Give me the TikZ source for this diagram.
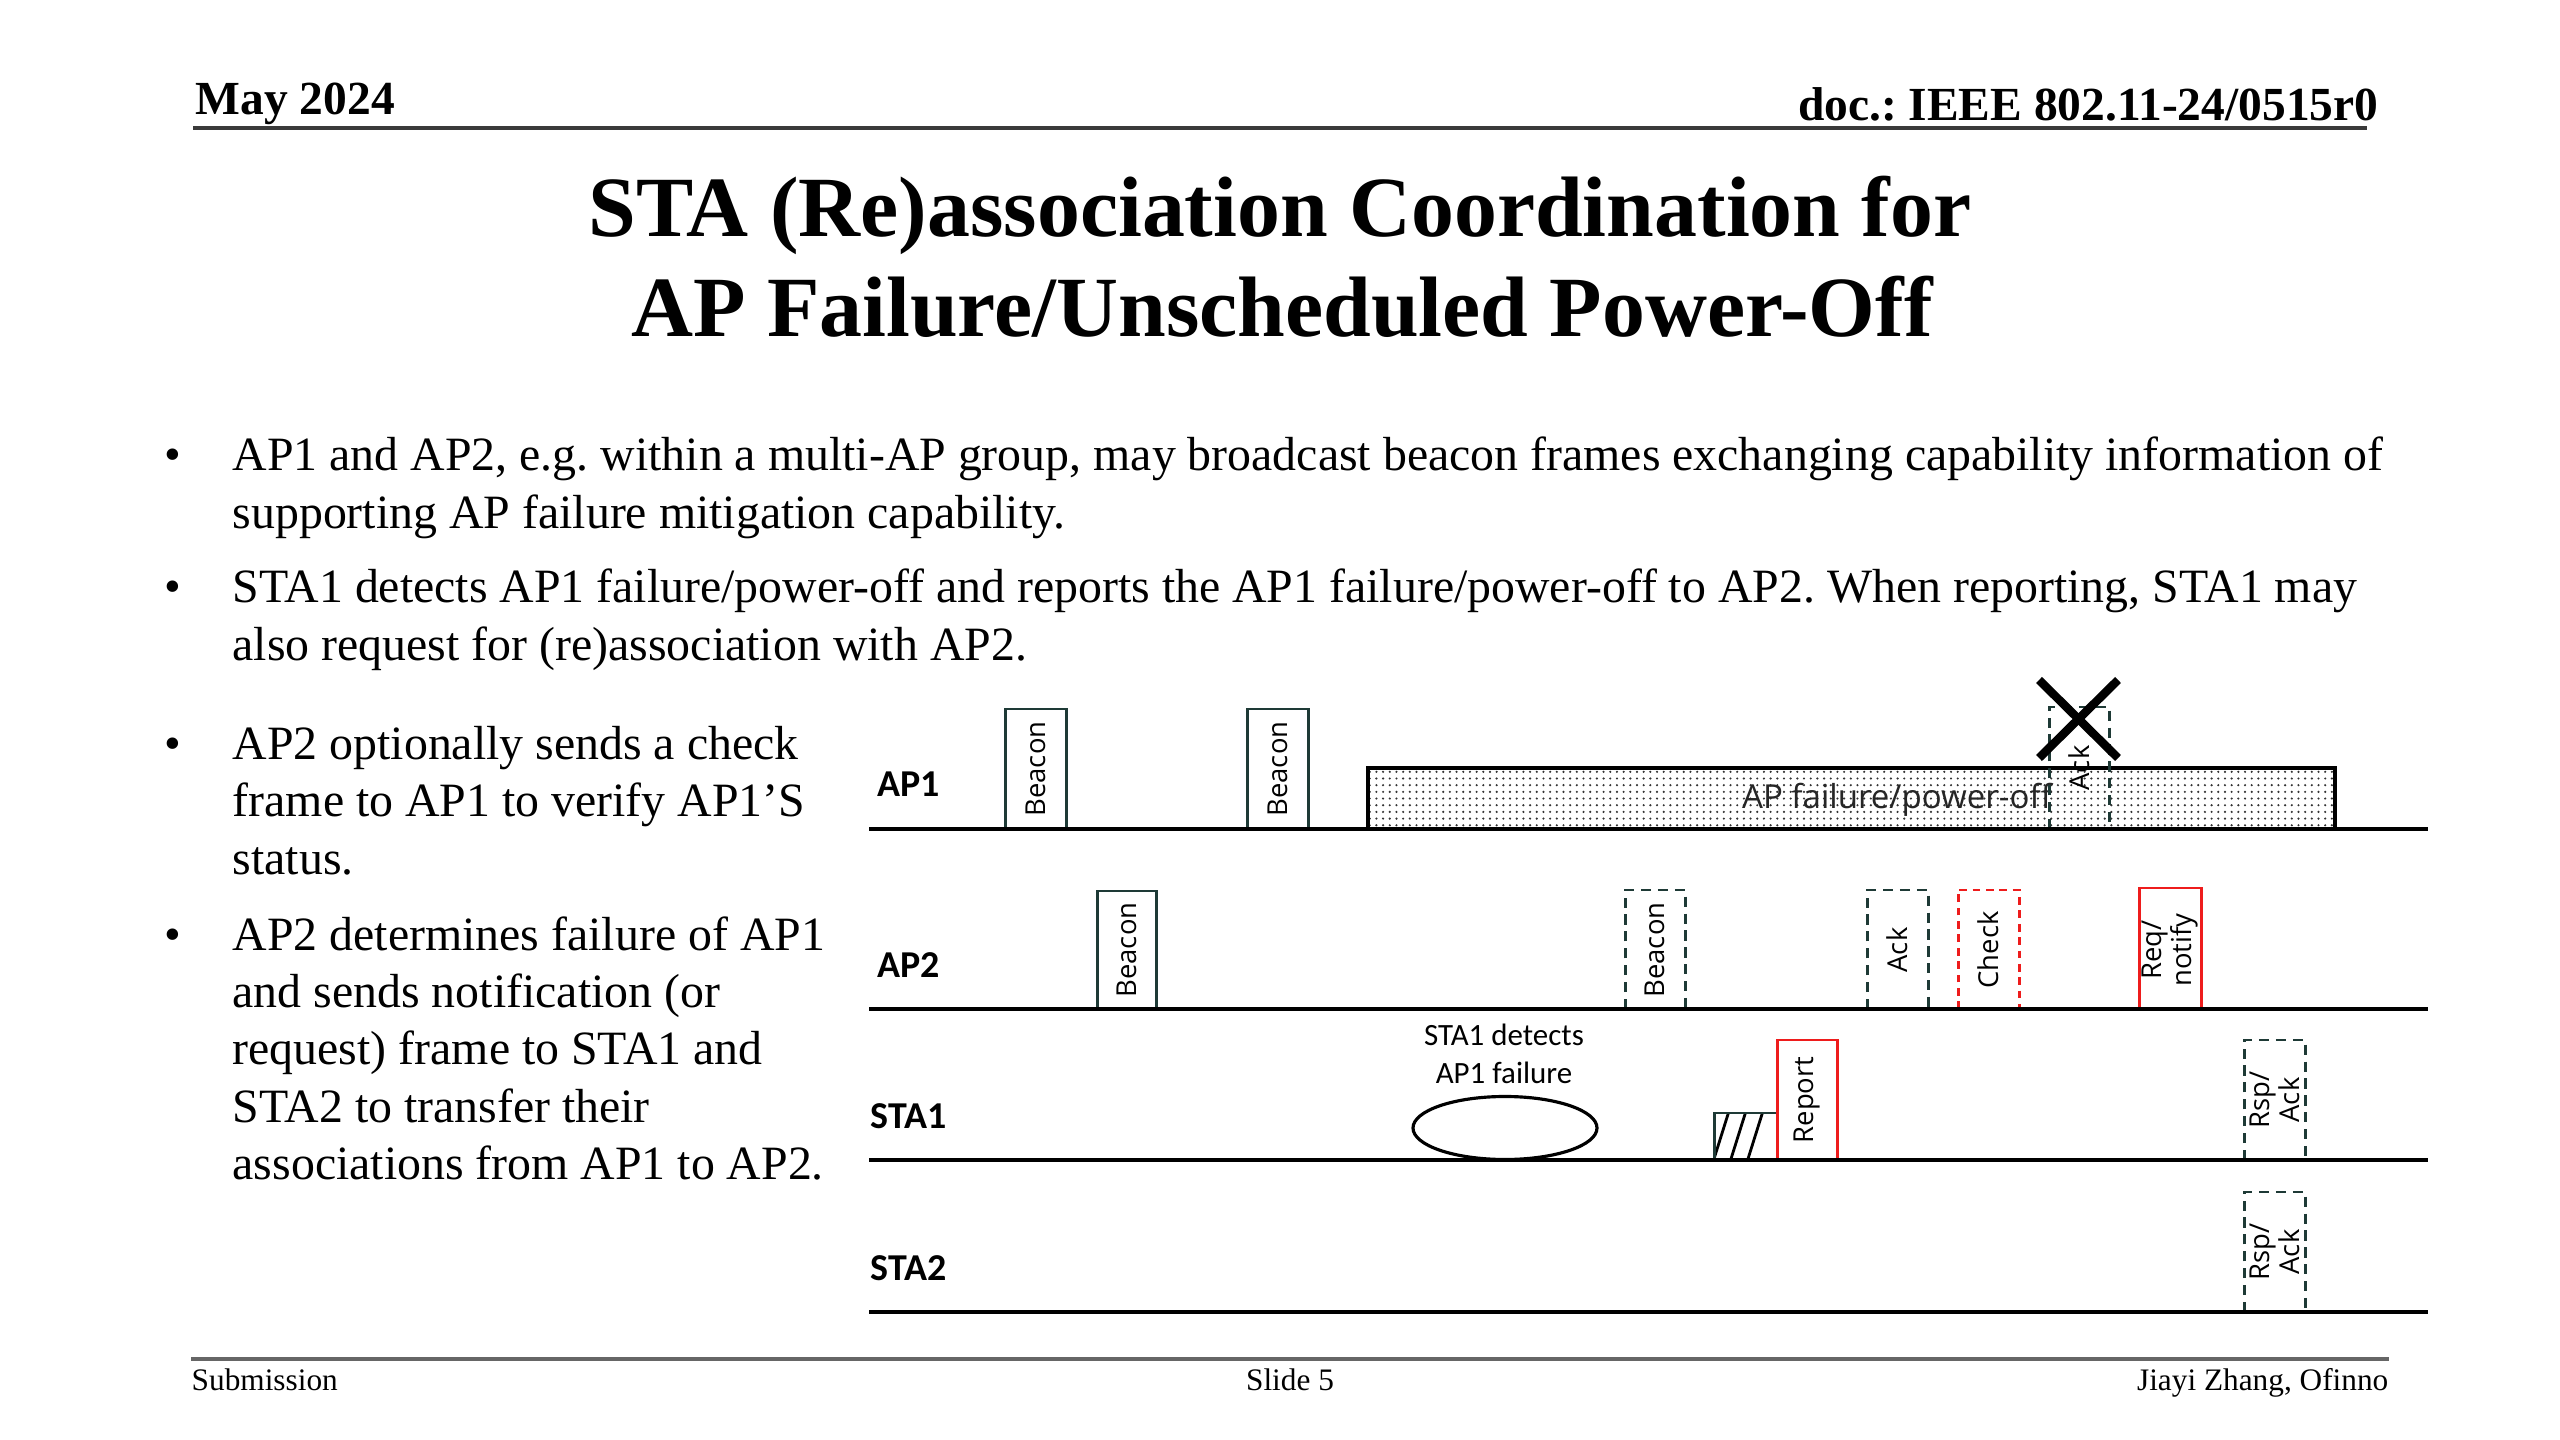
\documentclass[tikz,border=0pt]{standalone}
\usepackage{fontspec}
\setmainfont{Liberation Serif}
\newfontfamily\calfont{Carlito}
\newfontfamily\osfont{Open Sans}
\usetikzlibrary{patterns.meta}
\frenchspacing
\definecolor{boxc}{HTML}{1E3A36}
\definecolor{redc}{HTML}{EE1C1C}
\definecolor{rulec}{HTML}{3A3A3A}
\tikzset{
  hdr/.style={font=\fontsize{13.5}{16}\selectfont\bfseries},
  ttl/.style={font=\fontsize{24.4}{29}\selectfont\bfseries, anchor=base},
  body/.style={font=\fontsize{13.6}{16}\selectfont, anchor=base west, inner sep=0pt},
  foot/.style={font=\fontsize{8.9}{11}\selectfont, inner sep=0pt},
  tl/.style={line width=1.1pt, black},
  lane/.style={font=\calfont\fontsize{10.8}{13}\selectfont\bfseries, anchor=base west, inner sep=0pt},
  frm/.style={draw=boxc, line width=0.85pt},
  dfrm/.style={draw=boxc, line width=0.85pt, dash pattern=on 2.9pt off 1.9pt},
  rfrm/.style={draw=redc, line width=0.85pt},
  rdfrm/.style={draw=redc, line width=0.85pt, dash pattern=on 2.2pt off 1.6pt},
  flab/.style={font=\osfont\fontsize{7.8}{8.6}\selectfont, rotate=90, inner sep=0pt, align=center},
  note/.style={font=\calfont\fontsize{8.8}{11}\selectfont, anchor=base, inner sep=0pt}
}
\begin{document}
\begin{tikzpicture}[x=0.01cm,y=-0.01cm]
\useasboundingbox (0,0) rectangle (2560,1440);
\fill[white] (0,0) rectangle (2560,1440);

% header
\node[hdr, anchor=base west, inner sep=0pt] (date) at (195,115) {May 2024};
\node[hdr, anchor=base east, inner sep=0pt] (doc) at (2379,121) {doc.: IEEE 802.11-24/0515r0};
\draw[line width=0.9pt, rulec] (193,128) -- (2367,128);

% title
\node[ttl, inner sep=0pt] (t1) at (1280,237) {STA (Re)association Coordination for};
\node[ttl, inner sep=0pt] (t2) at (1282,337) {AP Failure/Unscheduled Power-Off};

% bullets
\foreach \y in {471,603,760,950}{
  \node[body] at (164,\y) {\textbullet};
}
\node[body] (b1a) at (232,471) {AP1 and AP2, e.g. within a multi-AP group, may broadcast beacon frames exchanging capability information of};
\node[body] (b1b) at (232,529) {supporting AP failure mitigation capability.};
\node[body] (b2a) at (232,603) {STA1 detects AP1 failure/power-off and reports the AP1 failure/power-off to AP2. When reporting, STA1 may};
\node[body] (b2b) at (232,661) {also request for (re)association with AP2.};
\node[body] (b3a) at (232,760) {AP2 optionally sends a check};
\node[body] (b3b) at (232,817) {frame to AP1 to verify AP1’S};
\node[body] (b3c) at (232,874) {status.};
\node[body] (b4a) at (232,950) {AP2 determines failure of AP1};
\node[body] (b4b) at (232,1007) {and sends notification (or};
\node[body] (b4c) at (232,1064) {request) frame to STA1 and};
\node[body] (b4d) at (232,1122) {STA2 to transfer their};
\node[body] (b4e) at (232,1179) {associations from AP1 to AP2.};

% lane labels
\node[lane] (lap1) at (877,797) {AP1};
\node[lane] (lap2) at (877,978) {AP2};
\node[lane] (lsta1) at (870,1128) {STA1};
\node[lane] (lsta2) at (870,1280) {STA2};

% AP1 lane
\draw[frm] (1005,829) rectangle (1066,709);
\node[flab] (bc1) at (1035.5,769) {Beacon};
\draw[frm] (1247,829) rectangle (1308,709);
\node[flab] (bc2) at (1277.5,769) {Beacon};
\fill[white] (1368,768) rectangle (2335,829);
\fill[pattern={Dots[radius=0.34pt, distance=1.9pt]}, pattern color=black!80] (1368,768) rectangle (2335,829);
\draw[line width=1.0pt, black] (1368,829) -- (1368,768) -- (2335,768) -- (2335,829);
\node[font=\osfont\fontsize{9.4}{11}\selectfont, inner sep=0pt, text=black!85] (fail) at (1897,800) {AP failure/power-off};
\draw[dfrm] (2049,829) rectangle (2109,707);
\node[flab] (ack1) at (2079,768) {Ack};

% AP2 lane
\draw[frm] (1097,1009) rectangle (1156,891);
\node[flab] (bc3) at (1126.5,950) {Beacon};
\draw[dfrm] (1625,1009) rectangle (1685,890);
\node[flab] (bc4) at (1655,950) {Beacon};
\draw[dfrm] (1867,1009) rectangle (1928,890);
\node[flab] (ack2) at (1897.5,950) {Ack};
\draw[rdfrm] (1958,1009) rectangle (2019,890);
\node[flab] (chk) at (1988.5,950) {Check};
\draw[rfrm] (2139,1009) rectangle (2201,888);
\node[flab] (req) at (2170,950) {Req/\\notify};

% STA1 lane
\node[note] (det1) at (1504,1045) {STA1 detects};
\node[note] (det2) at (1504,1083) {AP1 failure};
\draw[line width=0.9pt, black] (1505,1128) ellipse [x radius=92, y radius=31.5];
\begin{scope}
  \clip (1714,1113) rectangle (1777,1160);
  \draw[line width=0.8pt, black] (1713,1162) -- (1729,1111);
  \draw[line width=0.8pt, black] (1730,1162) -- (1746,1111);
  \draw[line width=0.8pt, black] (1747,1162) -- (1763,1111);
\end{scope}
\draw[line width=0.85pt, boxc] (1714,1160) rectangle (1777,1113);
\draw[rfrm] (1777,1160) rectangle (1837,1040);
\node[flab] (rep) at (1807,1100) {Report};
\draw[dfrm] (2244,1160) rectangle (2305,1040);
\node[flab] (rsp1) at (2274.5,1100) {Rsp/\\Ack};

% STA2 lane
\draw[dfrm] (2244,1312) rectangle (2305,1192);
\node[flab] (rsp2) at (2274.5,1252) {Rsp/\\Ack};

% timelines
\draw[tl] (869,829) -- (2428,829);
\draw[tl] (869,1009) -- (2428,1009);
\draw[tl] (869,1160) -- (2428,1160);
\draw[tl] (869,1312) -- (2428,1312);

% X mark
\draw[line width=2.4pt, black] (2039,680) -- (2118,758);
\draw[line width=2.4pt, black] (2118,680) -- (2039,758);

% footer
\draw[line width=1.1pt, black!60] (191,1359) -- (2389,1359);
\node[foot, anchor=base west] (sub) at (191,1390) {Submission};
\node[foot, anchor=base] (slide) at (1290,1390) {Slide 5};
\node[foot, anchor=base east] (auth) at (2389,1390) {Jiayi Zhang, Ofinno};
\end{tikzpicture}
\end{document}
